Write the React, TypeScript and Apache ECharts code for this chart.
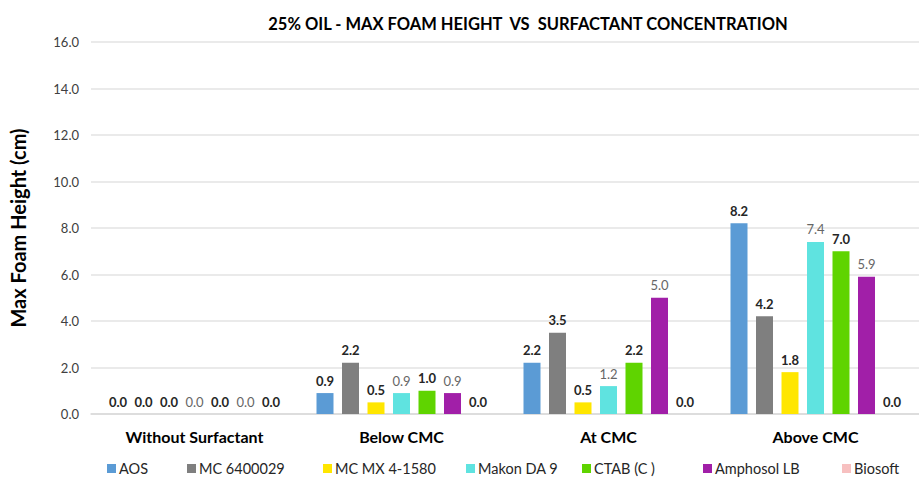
import React, { useEffect, useRef } from "react";
import * as echarts from "echarts";

const categories = ["Without Surfactant", "Below CMC", "At CMC", "Above CMC"];
const seriesNames = ["AOS", "MC 6400029", "MC MX 4-1580", "Makon DA 9", "CTAB (C )", "Amphosol LB", "Biosoft"];
const aos = [0.0, 0.9, 2.2, 8.2];
const mc6400029 = [0.0, 2.2, 3.5, 4.2];
const mcMx = [0.0, 0.5, 0.5, 1.8];
const makon = [0.0, 0.9, 1.2, 7.4];
const ctab = [0.0, 1.0, 2.2, 7.0];
const amphosol = [0.0, 0.9, 5.0, 5.9];
const biosoft = [0.0, 0.0, 0.0, 0.0];
const yTicks = [0, 2, 4, 6, 8, 10, 12, 14, 16];

const seriesValues = [aos, mc6400029, mcMx, makon, ctab, amphosol, biosoft];
const colors = ["#5b9bd5", "#7f7f7f", "#ffe600", "#5fe3e0", "#5fd400", "#a11fa8", "#f7c0c0"];
const labelColors = ["#262626", "#262626", "#262626", "#666666", "#262626", "#666666", "#262626"];
const legendX = [102, 182, 318, 461, 577, 698, 837];
const FONT = "Lato, 'Noto Sans', sans-serif";

export default function App() {
  const ref = useRef<HTMLDivElement>(null);
  useEffect(() => {
    if (!ref.current) return;
    const chart = echarts.init(ref.current, null, { renderer: "svg" });
    chart.setOption({
      animation: false,
      backgroundColor: "#ffffff",
      textStyle: { fontFamily: FONT },
      title: {
        text: "25% OIL - MAX FOAM HEIGHT  VS  SURFACTANT CONCENTRATION",
        left: 523,
        textAlign: "center",
        top: 10,
        textStyle: { fontFamily: FONT, fontSize: 16.5, fontWeight: "bold", color: "#000000" },
      },
      legend: seriesNames.map((n, i) => ({
        data: [n],
        left: legendX[i],
        top: 456,
        itemWidth: 9,
        itemHeight: 9,
        itemGap: 4,
        icon: "rect",
        textStyle: { fontFamily: FONT, fontSize: 14.5, color: "#262626", padding: [0, 0, 0, -2] },
      })),
      grid: { left: 90, width: 841, top: 42, bottom: 63, containLabel: false },
      xAxis: {
        type: "category",
        data: categories,
        axisLine: { show: true, lineStyle: { color: "#d9d9d9", width: 1.5 } },
        axisTick: { show: false },
        axisLabel: { fontFamily: FONT, fontSize: 16, fontWeight: "bold", color: "#000000", margin: 14 },
      },
      yAxis: {
        type: "value",
        min: 0,
        max: 16,
        interval: 2,
        name: "Max Foam Height (cm)",
        nameLocation: "middle",
        nameGap: 63,
        nameTextStyle: { fontFamily: FONT, fontSize: 20, fontWeight: "bold", color: "#000000" },
        axisLine: { show: false },
        axisTick: { show: false },
        splitLine: { lineStyle: { color: "#e3e3e3", width: 1.5 } },
        axisLabel: {
          fontFamily: FONT,
          fontSize: 13,
          color: "#404040",
          margin: 12,
          formatter: (v: number) => (yTicks.includes(v) ? v.toFixed(1) : ""),
        },
      },
      series: seriesNames.map((n, i) => ({
        name: n,
        type: "bar",
        data: seriesValues[i],
        barWidth: 17,
        barGap: "50%",
        itemStyle: { color: colors[i] },
        label: {
          show: true,
          position: "top",
          distance: 6,
          fontFamily: FONT,
          fontSize: 13,
          fontWeight: labelColors[i] === "#262626" ? "bold" : "normal",
          color: labelColors[i],
          formatter: (p: any) => Number(p.value).toFixed(1),
        },
      })),
    });
    return () => chart.dispose();
  }, []);
  return (
    <div
      ref={ref}
      style={{ position: "fixed", left: 0, top: 0, width: 919, height: 477, background: "#fff" }}
    />
  );
}
